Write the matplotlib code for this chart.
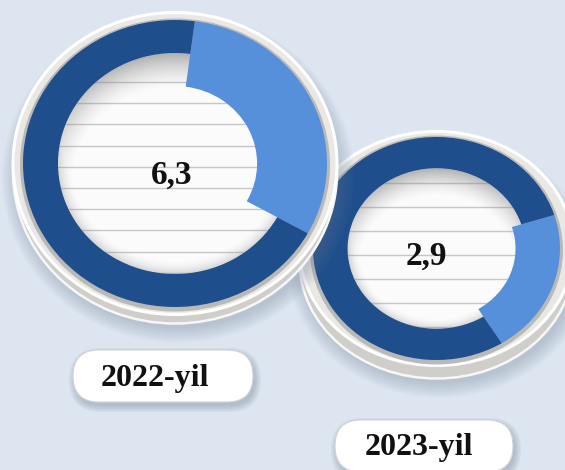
import numpy as np
import matplotlib
matplotlib.use("Agg")
import matplotlib.pyplot as plt
from matplotlib.patches import Ellipse, FancyBboxPatch

# ---- data ----
years = ["2022-yil", "2023-yil"]
values = [6.3, 2.9]
segment_share = [0.31, 0.21]   # share of each ring drawn in light blue (estimated)

# ---- style / layout ----
W, H = 565, 470
BG = "#dce5f0"
DARK = "#1e4e8c"
LIGHT = "#5690da"

layout = [
    dict(cx=175, cy=163.5, rx=152, ry=143.5, start=82.5, dark_w=0.23, light_w=0.46,
         rim_rx=162, rim_ry=151, base_off=9, line_top=82, line_step=21.2,
         pill=(73, 350, 180, 52), zorder=2, vx=172, vy=184, tx=155, ty=386),
    dict(cx=436.5, cy=248.5, rx=123.5, ry=111.5, start=17.5, dark_w=0.28, light_w=0.36,
         rim_rx=137, rim_ry=117, base_off=13, line_top=183, line_step=24,
         pill=(335, 420, 178, 52), zorder=1, vx=426, vy=265, tx=418.5, ty=455),
]

fig = plt.figure(figsize=(W / 100, H / 100), dpi=100)
fig.patch.set_facecolor(BG)


def draw_donut(L, share):
    ax = fig.add_axes([0, 0, 1, 1], zorder=L["zorder"])
    ax.patch.set_visible(False)
    rx, ry = L["rx"], L["ry"]
    sx = lambda px: px / rx
    sy = lambda px: px / ry
    # soft drop shadow
    for i in range(8):
        g = i * 2.0
        ax.add_patch(Ellipse((sx(3), -sy(L["base_off"] + 5)),
                             2 * sx(L["rim_rx"] + g), 2 * sy(L["rim_ry"] + g),
                             fc="#6f7f96", ec="none", alpha=0.045, zorder=0.1))
    # base of the cap
    ax.add_patch(Ellipse((0, -sy(L["base_off"])), 2 * sx(L["rim_rx"]), 2 * sy(L["rim_ry"]),
                         fc="#cfcecb", ec="#f7f7f5", lw=1.8, zorder=0.2))
    # top face
    ax.add_patch(Ellipse((0, 0), 2 * sx(L["rim_rx"]), 2 * sy(L["rim_ry"]),
                         fc="#e9e8e5", ec="#ffffff", lw=2.2, zorder=0.3))
    # thin shadow round the ring
    ax.add_patch(Ellipse((0, -sy(1.5)), 2 * (1 + sx(3)), 2 * (1 + sy(3)),
                         fc="#b9b9b7", ec="none", zorder=0.35))
    r_in = 1 - L["dark_w"]
    inner = Ellipse((0, 0), 2 * r_in, 2 * r_in, fc="#fbfbfb", ec="none", zorder=0.4)
    ax.add_patch(inner)
    # notebook lines
    ys = np.arange(L["line_top"], L["cy"] + r_in * ry, L["line_step"])
    for py in ys:
        yn = (L["cy"] - py) / ry
        ln, = ax.plot([-1.2, 1.2], [yn, yn], color="#c6c6ca", lw=1.0, zorder=0.5)
        ln.set_clip_path(inner)
    # inner shadow
    n = 300
    g = np.linspace(-r_in, r_in, n)
    X, Y = np.meshgrid(g, g)
    s = 0.15
    d = np.hypot(X, Y + s)
    crescent = np.clip((d - r_in + 0.10) / (s + 0.10), 0, 1) ** 1.5
    rr = np.hypot(X, Y)
    vign = np.clip((rr - r_in + 0.10) / 0.10, 0, 1) ** 2 * 0.5
    a = np.maximum(crescent, vign) * 0.6
    img = np.zeros((n, n, 4))
    img[..., :3] = 0.5
    img[..., 3] = a
    im = ax.imshow(img, extent=(-r_in, r_in, -r_in, r_in), origin="lower",
                   interpolation="bilinear", zorder=0.6, aspect="auto")
    im.set_clip_path(inner)
    # the ring itself
    wedges, _ = ax.pie([share, 1 - share], colors=[LIGHT, DARK], startangle=L["start"],
                       counterclock=False, radius=1,
                       wedgeprops=dict(width=L["dark_w"], linewidth=0))
    wedges[0].set_width(L["light_w"])
    for w in wedges:
        w.set_zorder(1)
    ax.set_aspect("auto")
    ax.set_xlim(-L["cx"] / rx, (W - L["cx"]) / rx)
    ax.set_ylim((L["cy"] - H) / ry, L["cy"] / ry)
    ax.set_axis_off()


for L, sh in zip(layout, segment_share):
    draw_donut(L, sh)

axt = fig.add_axes([0, 0, 1, 1], zorder=3)
axt.patch.set_visible(False)
axt.set_xlim(0, W)
axt.set_ylim(H, 0)
axt.set_axis_off()

for L, yr, val in zip(layout, years, values):
    x0, y0, w, h = L["pill"]
    r = h / 2
    for i in range(5):
        e = i * 1.5
        axt.add_patch(FancyBboxPatch((x0 + 2 - e, y0 + 4 - e), w + 2 * e, h + 2 * e,
                                     boxstyle=f"round,pad=0,rounding_size={r + e}",
                                     fc="#5c6b80", ec="none", alpha=0.07, zorder=1))
    axt.add_patch(FancyBboxPatch((x0, y0), w, h, boxstyle=f"round,pad=0,rounding_size={r}",
                                 fc="white", ec="#cfd3d8", lw=0.8, zorder=2))
    axt.text(L["tx"], L["ty"], yr, ha="center", va="baseline", fontsize=23,
             fontweight="bold", family="Liberation Serif", color="#111111", zorder=3)
    axt.text(L["vx"], L["vy"], f"{val:.1f}".replace(".", ","), ha="center", va="baseline",
             fontsize=24, fontweight="bold", family="Liberation Serif", color="#111111",
             zorder=3)

fig.savefig("out.png", dpi=100, facecolor=BG)
